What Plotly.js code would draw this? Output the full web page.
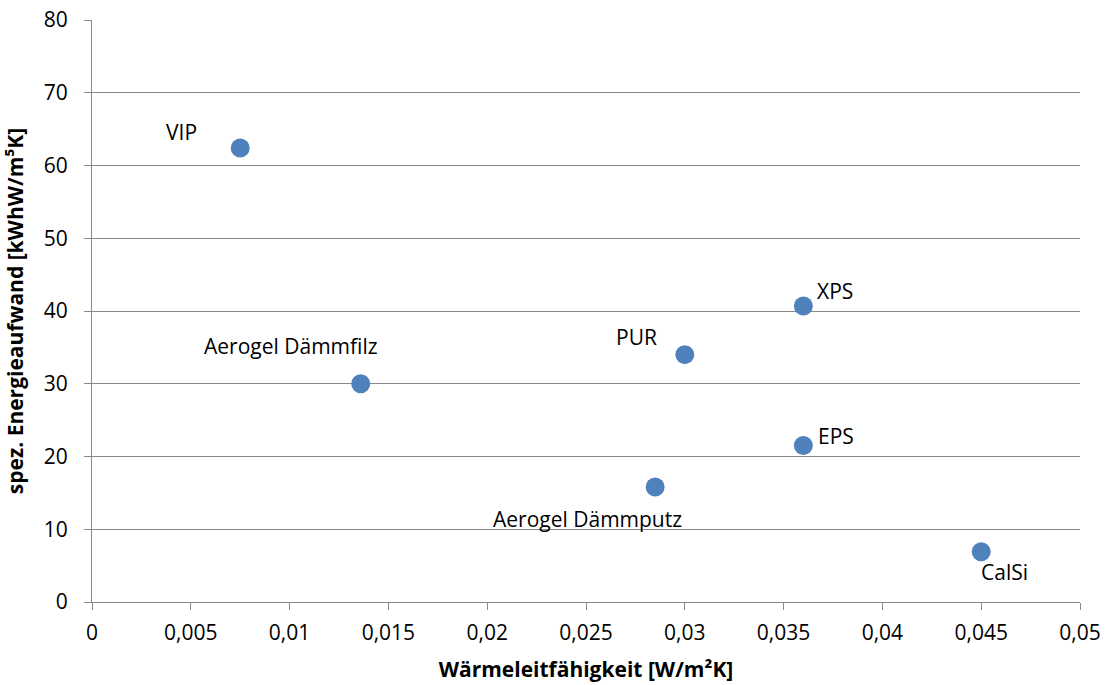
<!DOCTYPE html>
<html>
<head>
<meta charset="utf-8">
<script src="https://cdn.plot.ly/plotly-3.0.1.min.js"></script>
<style>html,body{margin:0;padding:0;background:#fff;}#chart{width:1110px;height:685px;}</style>
</head>
<body>
<div id="chart"></div>
<script>
// Data
const materials = ["VIP", "Aerogel Dämmfilz", "PUR", "XPS", "EPS", "Aerogel Dämmputz", "CalSi"];
const conductivity = [0.0075, 0.0136, 0.030, 0.036, 0.036, 0.0285, 0.045];
const energy = [62.4, 30.0, 34.0, 40.7, 21.5, 15.8, 6.9];
const xTickValues = [0, 0.005, 0.01, 0.015, 0.02, 0.025, 0.03, 0.035, 0.04, 0.045, 0.05];
const xTickLabels = ["0", "0,005", "0,01", "0,015", "0,02", "0,025", "0,03", "0,035", "0,04", "0,045", "0,05"];
const xTitle = "Wärmeleitfähigkeit [W/m²K]";
const yTitle = "spez. Energieaufwand [kWhW/m⁵K]";

// label offsets (pixels) — styling only
const labelShiftX = [-59, -70, -48, 32, 33, -68, 23];
const labelShiftY = [16, 38, 18, 15, 10, -32, -20];

const FONT = "Open Sans, sans-serif";
const FS = 21;
const gridColor = "#898989";

const trace = {
  type: "scatter",
  mode: "markers",
  x: conductivity,
  y: energy,
  marker: {color: "#4F81BD", size: 19},
  hoverinfo: "x+y"
};

const annotations = materials.map((m, i) => ({
  x: conductivity[i], y: energy[i], xref: "x", yref: "y",
  text: m, showarrow: false,
  xshift: labelShiftX[i], yshift: labelShiftY[i],
  font: {family: FONT, size: FS, color: "#000"}
}));

const layout = {
  width: 1110, height: 685,
  margin: {l: 92, r: 30, t: 20, b: 83},
  paper_bgcolor: "#fff", plot_bgcolor: "#fff",
  showlegend: false,
  separators: ",.",
  font: {family: FONT, size: FS, color: "#000"},
  xaxis: {
    range: [0, 0.05],
    tickmode: "array", tickvals: xTickValues, ticktext: xTickLabels,
    showgrid: false, zeroline: false,
    showline: true, linecolor: gridColor, linewidth: 1,
    ticks: "outside", ticklen: 7, tickcolor: gridColor, tickwidth: 1,
    ticklabelstandoff: 5,
    tickfont: {family: FONT, size: FS, color: "#000"},
    title: {text: xTitle, font: {family: FONT, size: FS, color: "#000", weight: "bold"}, standoff: 17}
  },
  yaxis: {
    range: [0, 80], dtick: 10, tick0: 0,
    showgrid: true, gridcolor: gridColor, gridwidth: 1,
    zeroline: false,
    showline: true, linecolor: gridColor, linewidth: 1,
    ticks: "outside", ticklen: 7, tickcolor: gridColor, tickwidth: 1,
    ticklabelstandoff: 12,
    tickfont: {family: FONT, size: FS, color: "#000"},
    title: {text: yTitle, font: {family: FONT, size: FS, color: "#000", weight: "bold"}, standoff: 14}
  },
  annotations: annotations
};

Plotly.newPlot("chart", [trace], layout, {displayModeBar: false, staticPlot: true});
</script>
</body>
</html>
